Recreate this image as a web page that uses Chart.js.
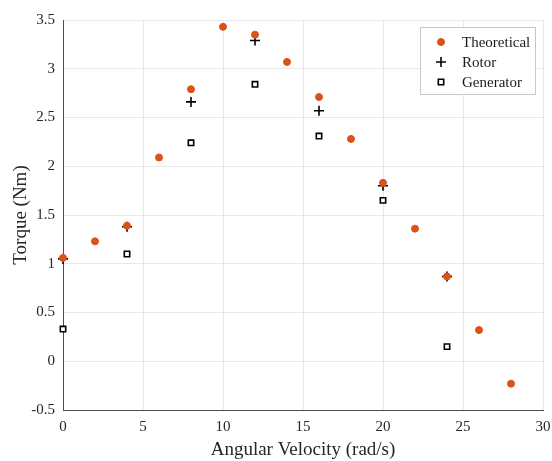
<!DOCTYPE html>
<html>
<head>
<meta charset="utf-8">
<script src="https://cdn.jsdelivr.net/npm/chart.js@4"></script>
<style>
  html, body { margin: 0; padding: 0; background: #fff; }
  #wrap { width: 552px; height: 461px; }
</style>
</head>
<body>
<div id="wrap"><canvas id="torqueChart" width="552" height="461"></canvas></div>
<script>
// ==========================================
// Data
// ==========================================
const theoreticalX = [0, 2, 4, 6, 8, 10, 12, 14, 16, 18, 20, 22, 24, 26, 28];
const theoreticalY = [1.06, 1.23, 1.39, 2.09, 2.79, 3.43, 3.35, 3.07, 2.71, 2.28, 1.83, 1.36, 0.87, 0.32, -0.23];

const measuredX = [0, 4, 8, 12, 16, 20, 24];
const rotorY = [1.05, 1.38, 2.66, 3.29, 2.57, 1.80, 0.87];
const generatorY = [0.33, 1.10, 2.24, 2.84, 2.31, 1.65, 0.15];

const xTicks = [0, 5, 10, 15, 20, 25, 30];
const yTicks = [-0.5, 0, 0.5, 1, 1.5, 2, 2.5, 3, 3.5];

const seriesNames = ['Theoretical', 'Rotor', 'Generator'];

const ORANGE = '#D95319';
const FONT = '"Liberation Serif", "DejaVu Serif", serif';

const toPoints = (xs, ys) => xs.map((x, i) => ({ x, y: ys[i] }));

// ==========================================
// Legend drawn inside the plot area
// ==========================================
const insideLegend = {
  id: 'insideLegend',
  afterDraw(chart) {
    const { ctx, chartArea } = chart;
    const w = 115, h = 67;
    const x0 = chartArea.right - 8 - w;
    const y0 = chartArea.top + 7;

    ctx.save();
    ctx.fillStyle = '#fff';
    ctx.fillRect(x0, y0, w, h);
    ctx.strokeStyle = '#c8c8c8';
    ctx.lineWidth = 1;
    ctx.strokeRect(x0 + 0.5, y0 + 0.5, w, h);

    ctx.font = '15px ' + FONT;
    ctx.textBaseline = 'middle';
    chart.data.datasets.forEach((ds, i) => {
      const cy = y0 + 15 + i * 20;
      const cx = x0 + 21;
      ctx.fillStyle = ds.backgroundColor;
      ctx.strokeStyle = ds.borderColor;
      ctx.lineWidth = ds.borderWidth;
      Chart.helpers.drawPoint(ctx, {
        pointStyle: ds.pointStyle,
        radius: ds.pointRadius,
        borderWidth: ds.borderWidth
      }, cx, cy);
      ctx.fillStyle = '#1a1a1a';
      ctx.fillText(ds.label, x0 + 42, cy + 1);
    });
    ctx.restore();
  }
};

// ==========================================
// Chart
// ==========================================
const ctx = document.getElementById('torqueChart').getContext('2d');

new Chart(ctx, {
  type: 'scatter',
  data: {
    datasets: [
      {
        label: seriesNames[0],
        data: toPoints(theoreticalX, theoreticalY),
        pointStyle: 'circle',
        pointRadius: 3.5,
        backgroundColor: ORANGE,
        borderColor: ORANGE,
        borderWidth: 1,
        clip: false
      },
      {
        label: seriesNames[1],
        data: toPoints(measuredX, rotorY),
        pointStyle: 'cross',
        pointRadius: 5,
        backgroundColor: '#000',
        borderColor: '#000',
        borderWidth: 1.6,
        clip: false
      },
      {
        label: seriesNames[2],
        data: toPoints(measuredX, generatorY),
        pointStyle: 'rect',
        pointRadius: 3.8,
        backgroundColor: '#fff',
        borderColor: '#000',
        borderWidth: 1.6,
        clip: false
      }
    ]
  },
  options: {
    responsive: false,
    animation: false,
    layout: { padding: { top: 20, right: 9, left: 0, bottom: 0 } },
    plugins: {
      legend: { display: false },
      tooltip: { enabled: false }
    },
    scales: {
      x: {
        type: 'linear',
        min: 0,
        max: 30,
        afterBuildTicks: (axis) => { axis.ticks = xTicks.map(v => ({ value: v })); },
        afterFit: (axis) => {
          axis.height = 51;
          axis.paddingLeft = 0;
          axis.paddingRight = 0;
        },
        grid: { color: '#e8e8e8', drawTicks: false },
        border: { color: '#4d4d4d', width: 1 },
        ticks: {
          color: '#262626',
          padding: 8,
          font: { family: FONT, size: 15 },
          callback: (v) => String(v)
        },
        title: {
          display: true,
          text: 'Angular Velocity (rad/s)',
          color: '#262626',
          font: { family: FONT, size: 19 },
          padding: { top: 0, bottom: 0 }
        }
      },
      y: {
        type: 'linear',
        min: -0.5,
        max: 3.5,
        afterBuildTicks: (axis) => { axis.ticks = yTicks.map(v => ({ value: v })); },
        afterFit: (axis) => {
          axis.width = 63;
          axis.paddingTop = 0;
          axis.paddingBottom = 0;
        },
        grid: { color: '#e8e8e8', drawTicks: false },
        border: { color: '#4d4d4d', width: 1 },
        ticks: {
          color: '#262626',
          padding: 8,
          font: { family: FONT, size: 15 },
          callback: (v) => String(v)
        },
        title: {
          display: true,
          text: 'Torque (Nm)',
          color: '#262626',
          font: { family: FONT, size: 19 },
          padding: { top: 10, bottom: 4 }
        }
      }
    }
  },
  plugins: [insideLegend]
});
</script>
</body>
</html>
